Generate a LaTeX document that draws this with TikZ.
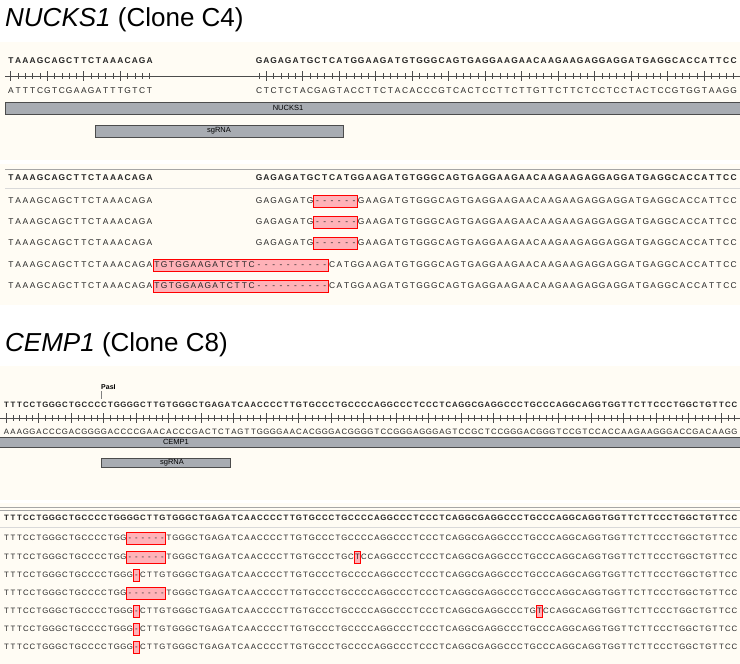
\documentclass[tikz,border=0pt]{standalone}
\usepackage{fontspec}
\setmainfont{Liberation Sans}
\newdimen\cw
\def\seqrun#1{\seqstep#1\relax}
\def\seqstep#1{\ifx#1\relax\else\makebox[\cw][c]{#1}\expandafter\seqstep\fi}
\definecolor{cream}{RGB}{255,252,244}
\definecolor{barfill}{RGB}{168,172,178}
\definecolor{pinkbox}{RGB}{255,178,184}
\tikzset{
 seqA/.style={font=\fontsize{8.4}{9}\selectfont\bfseries, inner sep=0, anchor=west, text=black!85},
 seqB/.style={font=\fontsize{7.8}{9}\selectfont\bfseries, inner sep=0, anchor=west, text=black!85},
 bar/.style={fill=barfill, draw=black!70, line width=0.6pt},
 barlabel/.style={font=\fontsize{7.5}{8}\selectfont, inner sep=0},
 mut/.style={fill=pinkbox, draw=red, line width=0.8pt},
 title/.style={font=\fontsize{26}{30}\selectfont, anchor=west, inner sep=0},
 sep/.style={draw=black!35, line width=0.7pt}
}
\begin{document}
\begin{tikzpicture}[x=1pt,y=-1pt]
\clip (0,0) rectangle (740,664);
\fill[white] (0,0) rectangle (740,664);
% ---------- NUCKS1 ----------
\node[title] (t1) at (5,20) {\textit{NUCKS1} (Clone C4)};
\fill[cream] (0,42) rectangle (740,160);
\fill[cream] (0,164) rectangle (740,305);
\node[seqA] (a1) at (7,61) {\cw=7.3pt\seqrun{TAAAGCAGCTTCTAAACAGA}};
\node[seqA] (a2) at (255.2,61) {\cw=7.3pt\seqrun{GAGAGATGCTCATGGAAGATGTGGGCAGTGAGGAAGAACAAGAAGAGGAGGATGAGGCACCATTCC}};
\draw[black!70, line width=0.8pt] (5,76) -- (740,76);
\foreach \i in {1,...,20,35,36,...,100}{
  \pgfmathsetmacro{\xx}{7+(\i-0.5)*7.3}
  \pgfmathtruncatemacro{\mm}{mod(\i-1,5)}
  \ifnum\mm=0 \draw[black!70,line width=0.7pt] (\xx,71) -- (\xx,81); \else \draw[black!70,line width=0.5pt] (\xx,73) -- (\xx,79); \fi
}
\node[seqA, font=\fontsize{8.4}{9}\selectfont] (b1) at (7,91) {\cw=7.3pt\seqrun{ATTTCGTCGAAGATTTGTCT}};
\node[seqA, font=\fontsize{8.4}{9}\selectfont] (b2) at (255.2,91) {\cw=7.3pt\seqrun{CTCTCTACGAGTACCTTCTACACCCGTCACTCCTTCTTGTTCTTCTCCTCCTACTCCGTGGTAAGG}};
\draw[bar] (5,102) rectangle (745,114);
\node[barlabel] (g1) at (288,108) {NUCKS1};
\draw[bar] (95,125) rectangle (343,137);
\node[barlabel] (s1) at (219,131) {sgRNA};
\draw[sep] (5,169) -- (740,169);
\draw[black!15, line width=0.6pt] (5,188) -- (740,188);
\node[seqA] (r0a) at (7,178) {\cw=7.3pt\seqrun{TAAAGCAGCTTCTAAACAGA}};
\node[seqA] (r0b) at (255.2,178) {\cw=7.3pt\seqrun{GAGAGATGCTCATGGAAGATGTGGGCAGTGAGGAAGAACAAGAAGAGGAGGATGAGGCACCATTCC}};
\foreach \y/\n in {201/1,222/2,243/3}{
  \draw[mut] (313.6,\y-6) rectangle (357.4,\y+6);
  \node[seqA, font=\fontsize{8.4}{9}\selectfont] (r\n a) at (7,\y) {\cw=7.3pt\seqrun{TAAAGCAGCTTCTAAACAGA}};
  \node[seqA, font=\fontsize{8.4}{9}\selectfont] (r\n b) at (255.2,\y) {\cw=7.3pt\seqrun{GAGAGATG------GAAGATGTGGGCAGTGAGGAAGAACAAGAAGAGGAGGATGAGGCACCATTCC}};
}
\foreach \y/\n in {265/4,286/5}{
  \draw[mut] (153,\y-6) rectangle (328.2,\y+6);
  \node[seqA, font=\fontsize{8.4}{9}\selectfont] (r\n a) at (7,\y) {\cw=7.3pt\seqrun{TAAAGCAGCTTCTAAACAGATGTGGAAGATCTTC----------CATGGAAGATGTGGGCAGTGAGGAAGAACAAGAAGAGGAGGATGAGGCACCATTCC}};
}
% ---------- CEMP1 ----------
\node[title] (t2) at (5,345) {\textit{CEMP1} (Clone C8)};
\fill[cream] (0,366) rectangle (740,500);
\fill[cream] (0,503) rectangle (740,664);
\node[font=\fontsize{7}{8}\selectfont\bfseries, anchor=south west, inner sep=0] (pas) at (101,390) {PasI};
\draw[black!50, line width=0.5pt] (101,391) -- (101,399);
\node[seqB] (c1) at (3,405) {\cw=6.5pt\seqrun{TTTCCTGGGCTGCCCCTGGGGCTTGTGGGCTGAGATCAACCCCTTGTGCCCTGCCCCAGGCCCTCCCTCAGGCGAGGCCCTGCCCAGGCAGGTGGTTCTTCCCTGGCTGTTCC}};
\draw[black!70, line width=0.8pt] (0,418) -- (740,418);
\foreach \i in {1,...,113}{
  \pgfmathsetmacro{\xx}{3+(\i-0.5)*6.5}
  \pgfmathtruncatemacro{\mm}{mod(\i-1,5)}
  \ifnum\mm=0 \draw[black!70,line width=0.7pt] (\xx,413) -- (\xx,423); \else \draw[black!70,line width=0.5pt] (\xx,415) -- (\xx,421); \fi
}
\node[seqB, font=\fontsize{7.8}{9}\selectfont] (c2) at (3,432) {\cw=6.5pt\seqrun{AAAGGACCCGACGGGGACCCCGAACACCCGACTCTAGTTGGGGAACACGGGACGGGGTCCGGGAGGGAGTCCGCTCCGGGACGGGTCCGTCCACCAAGAAGGGACCGACAAGG}};
\draw[bar] (-5,437) rectangle (745,447);
\node[barlabel, fill=barfill, inner xsep=3pt, inner ysep=1pt] (g2) at (176,442) {CEMP1};
\draw[bar] (101,458) rectangle (230,467);
\node[barlabel] (s2) at (172,463) {sgRNA};
\draw[sep] (0,507) -- (740,507);
\draw[sep] (0,510) -- (740,510);
\draw[black!15, line width=0.6pt] (0,527) -- (740,527);
\node[seqB] (d0) at (3,518) {\cw=6.5pt\seqrun{TTTCCTGGGCTGCCCCTGGGGCTTGTGGGCTGAGATCAACCCCTTGTGCCCTGCCCCAGGCCCTCCCTCAGGCGAGGCCCTGCCCAGGCAGGTGGTTCTTCCCTGGCTGTTCC}};
\draw[mut] (126.5,532) rectangle (165.5,544);
\node[seqB, font=\fontsize{7.8}{9}\selectfont] (d1) at (3,538) {\cw=6.5pt\seqrun{TTTCCTGGGCTGCCCCTGG------TGGGCTGAGATCAACCCCTTGTGCCCTGCCCCAGGCCCTCCCTCAGGCGAGGCCCTGCCCAGGCAGGTGGTTCTTCCCTGGCTGTTCC}};
\draw[mut] (126.5,551) rectangle (165.5,563);
\draw[mut] (354,551) rectangle (360.5,563);
\node[seqB, font=\fontsize{7.8}{9}\selectfont] (d2) at (3,557) {\cw=6.5pt\seqrun{TTTCCTGGGCTGCCCCTGG------TGGGCTGAGATCAACCCCTTGTGCCCTGCTCCAGGCCCTCCCTCAGGCGAGGCCCTGCCCAGGCAGGTGGTTCTTCCCTGGCTGTTCC}};
\draw[mut] (133,569) rectangle (139.5,581);
\node[seqB, font=\fontsize{7.8}{9}\selectfont] (d3) at (3,575) {\cw=6.5pt\seqrun{TTTCCTGGGCTGCCCCTGGG-CTTGTGGGCTGAGATCAACCCCTTGTGCCCTGCCCCAGGCCCTCCCTCAGGCGAGGCCCTGCCCAGGCAGGTGGTTCTTCCCTGGCTGTTCC}};
\draw[mut] (126.5,587) rectangle (165.5,599);
\node[seqB, font=\fontsize{7.8}{9}\selectfont] (d4) at (3,593) {\cw=6.5pt\seqrun{TTTCCTGGGCTGCCCCTGG------TGGGCTGAGATCAACCCCTTGTGCCCTGCCCCAGGCCCTCCCTCAGGCGAGGCCCTGCCCAGGCAGGTGGTTCTTCCCTGGCTGTTCC}};
\draw[mut] (133,605) rectangle (139.5,617);
\draw[mut] (536,605) rectangle (542.5,617);
\node[seqB, font=\fontsize{7.8}{9}\selectfont] (d5) at (3,611) {\cw=6.5pt\seqrun{TTTCCTGGGCTGCCCCTGGG-CTTGTGGGCTGAGATCAACCCCTTGTGCCCTGCCCCAGGCCCTCCCTCAGGCGAGGCCCTGTCCAGGCAGGTGGTTCTTCCCTGGCTGTTCC}};
\foreach \y/\n in {629/6,647/7}{
  \draw[mut] (133,\y-6) rectangle (139.5,\y+6);
  \node[seqB, font=\fontsize{7.8}{9}\selectfont] (d\n) at (3,\y) {\cw=6.5pt\seqrun{TTTCCTGGGCTGCCCCTGGG-CTTGTGGGCTGAGATCAACCCCTTGTGCCCTGCCCCAGGCCCTCCCTCAGGCGAGGCCCTGCCCAGGCAGGTGGTTCTTCCCTGGCTGTTCC}};
}
\end{tikzpicture}
\end{document}
